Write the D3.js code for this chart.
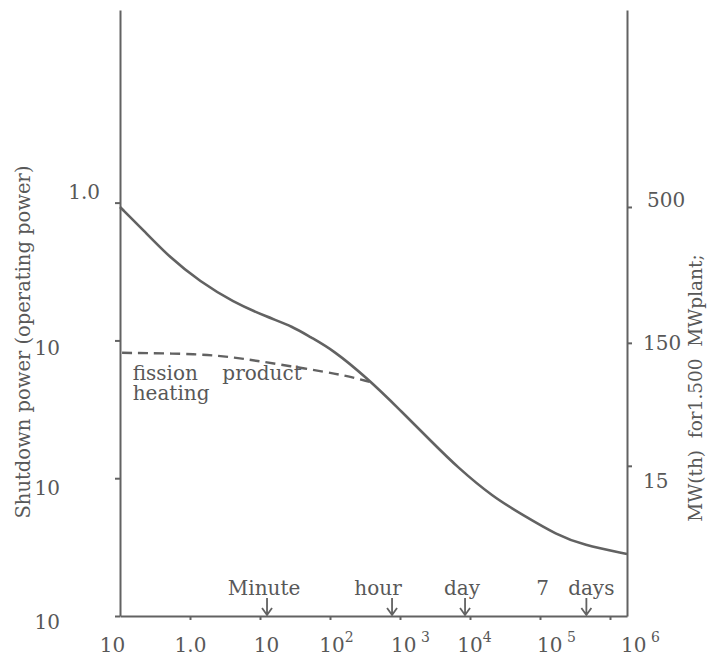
<!DOCTYPE html>
<html>
<head>
<meta charset="utf-8">
<script src="https://cdn.jsdelivr.net/npm/d3@7"></script>
<style>
  body { margin: 0; background: #fff; }
  text { font-family: "DejaVu Serif", serif; fill: #585858; }
</style>
</head>
<body>
<div class="canvas"></div>
<script>
// time after shutdown (s), log axis
const timeTicks = [0.1, 1, 10, 100, 1e3, 1e4, 1e5, 1e6];
const timeTickBase = ['10', '1.0', '10', '10', '10', '10', '10', '10'];
const timeTickSup = ['', '', '', '2', ' 3', '4', ' 5', ' 6'];

// left axis: fraction of operating power
const powerTicks = [1, 0.1, 0.01, 0.001];
const powerTickLabels = ['1.0', '10', '10', '10'];

// right axis: MW(th), placed against the left scale
const plantTickAt = [0.93, 0.096, 0.0123];
const plantTickLabels = ['500', '150', '15'];

// total shutdown power
const totalTime = [0.1, 0.213, 0.518, 1.39, 4.11, 12.6, 29.6, 51.8, 110, 338, 1000, 2960, 6520, 21300, 57200, 175000, 411000, 1750000];
const totalPower = [0.93, 0.635, 0.398, 0.267, 0.19, 0.148, 0.126, 0.106, 0.0855, 0.0534, 0.0313, 0.018, 0.0121, 0.0073, 0.0054, 0.00387, 0.00328, 0.00282];

// fission product heating
const fpTime = [0.107, 1.39, 4.69, 9.06, 46.9, 153, 372];
const fpPower = [0.0813, 0.08, 0.0748, 0.0711, 0.0622, 0.0562, 0.05];

// time markers
const markLabels = ['Minute', 'hour', 'day', '7   days'];
const markTimes = [12.6, 770, 8500, 460000];

const width = 710;
const height = 662;
const ink = '#626262';

const svg = d3.select('.canvas')
    .append('svg')
    .attr('width', width)
    .attr('height', height)

svg.append('rect').attr('width', width).attr('height', height).attr('fill', '#fff');

const x = d3.scaleLog()
    .domain([0.1, 1.75e6])
    .range([120, 627]);

const y = d3.scaleLog()
    .domain([0.001, 25])
    .range([616, 10]);

// 左軸
const leftAxis = svg.append('g')
    .attr('transform', `translate(${x(0.1)}, 0)`)
    .call(d3.axisLeft(y)
        .tickValues(powerTicks)
        .tickSize(5)
        .tickSizeOuter(0)
        .tickFormat((d, i) => powerTickLabels[i]));

const leftDx = [-12, -52, -52, -52];
const leftDy = [-11, 8, 10, 6];
leftAxis.selectAll('.tick text')
    .attr('font-size', '20px')
    .attr('fill', ink)
    .attr('dx', (d, i) => leftDx[i])
    .attr('dy', (d, i) => (0.32 * 20 + leftDy[i]) + 'px');

// 右軸
const rightAxis = svg.append('g')
    .attr('transform', `translate(${x.range()[1]}, 0)`)
    .call(d3.axisRight(y)
        .tickValues(plantTickAt)
        .tickSize(5)
        .tickSizeOuter(0)
        .tickFormat((d, i) => plantTickLabels[i]));

const rightDx = [12, 8, 8];
const rightDy = [-7, 0, 15];
rightAxis.selectAll('.tick text')
    .attr('font-size', '20px')
    .attr('fill', ink)
    .attr('dx', (d, i) => rightDx[i])
    .attr('dy', (d, i) => (0.32 * 20 + rightDy[i]) + 'px');

// 底軸
const bottomAxis = svg.append('g')
    .attr('transform', `translate(0, ${y(0.001)})`)
    .call(d3.axisBottom(x)
        .tickValues(timeTicks)
        .tickSize(4)
        .tickSizeOuter(0)
        .tickFormat(() => ''));

const bottomDx = [-8, 0, 6, 6, 10, 4, 16, 30];
bottomAxis.selectAll('.tick text')
    .attr('font-size', '20px')
    .attr('fill', ink)
    .attr('y', 36)
    .attr('dy', 0)
    .attr('dx', (d, i) => bottomDx[i])
    .each(function(d, i) {
        const t = d3.select(this);
        t.append('tspan').text(timeTickBase[i]);
        if (timeTickSup[i]) {
            t.append('tspan')
                .attr('font-size', '14px')
                .attr('dy', -10)
                .style('white-space', 'pre')
                .text(timeTickSup[i]);
        }
    });

[leftAxis, rightAxis, bottomAxis].forEach(g => {
    g.select('.domain').attr('stroke', ink).attr('stroke-width', 2);
    g.selectAll('.tick line').attr('stroke', ink).attr('stroke-width', 2);
});
bottomAxis.select('.tick line').attr('opacity', 0);

// 曲線
const line = d3.line()
    .x(d => x(d[0]))
    .y(d => y(d[1]))
    .curve(d3.curveBasis);

svg.append('path')
    .datum(totalTime.map((t, i) => [t, totalPower[i]]))
    .attr('d', line)
    .attr('fill', 'none')
    .attr('stroke', ink)
    .attr('stroke-width', 2.6);

svg.append('path')
    .datum(fpTime.map((t, i) => [t, fpPower[i]]))
    .attr('d', line)
    .attr('fill', 'none')
    .attr('stroke', ink)
    .attr('stroke-width', 2.4)
    .attr('stroke-dasharray', '10,6');

svg.append('text')
    .attr('x', x(0.152))
    .attr('y', 380)
    .attr('font-size', '20px')
    .text('fission');
svg.append('text')
    .attr('x', x(2.9))
    .attr('y', 380)
    .attr('font-size', '20px')
    .text('product');
svg.append('text')
    .attr('x', x(0.152))
    .attr('y', 400)
    .attr('font-size', '20px')
    .text('heating');

// 時間標記
const labelDx = [-3, -14, -3, -11];
const marks = svg.append('g');
markTimes.forEach((t, i) => {
    const mx = x(t);
    const base = y(0.001) - 1;
    marks.append('path')
        .attr('d', `M${mx},${base - 17}L${mx},${base}M${mx - 5},${base - 7}L${mx},${base}L${mx + 5},${base - 7}`)
        .attr('fill', 'none')
        .attr('stroke', ink)
        .attr('stroke-width', 1.8);
    marks.append('text')
        .attr('x', mx + labelDx[i])
        .attr('y', base - 20)
        .attr('text-anchor', 'middle')
        .attr('font-size', '20px')
        .style('white-space', 'pre')
        .text(markLabels[i]);
});

// 軸標題
svg.append('text')
    .attr('transform', 'translate(30, 342) rotate(-90)')
    .attr('text-anchor', 'middle')
    .attr('font-size', '19.5px')
    .text('Shutdown power (operating power)');

svg.append('text')
    .attr('transform', 'translate(702, 388) rotate(-90)')
    .attr('text-anchor', 'middle')
    .attr('font-size', '18.5px')
    .style('white-space', 'pre')
    .text('MW(th)  for1.500  MWplant;');
</script>
</body>
</html>
